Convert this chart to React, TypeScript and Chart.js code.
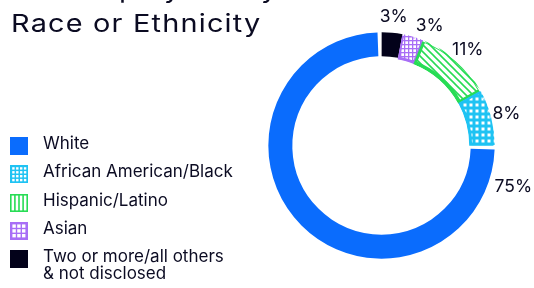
import React, { useEffect, useRef } from "react";
import { Chart, registerables } from "chart.js";

Chart.register(...registerables);

// ---- data ----
const titleLines = ["Our Employees by", "Race or Ethnicity"];
const sliceLabels = [
  "Two or more/all others & not disclosed",
  "Asian",
  "Hispanic/Latino",
  "African American/Black",
  "White",
];
const sliceValues = [3, 3, 11, 8, 75];
const legendLabels = [
  "White",
  "African American/Black",
  "Hispanic/Latino",
  "Asian",
  "Two or more/all others\n& not disclosed",
];
const legendKinds = ["white", "black", "hispanic", "asian", "other"];
const sliceKinds = ["other", "asian", "hispanic", "black", "white"];

const BLUE = "#0a6cfd";
const CYAN = "#1fc3f3";
const GREEN = "#28dc55";
const PURPLE = "#a86ef6";
const NAVY = "#03021a";
const TEXT = "#0b0b22";

function makeTile(size: number, draw: (c: CanvasRenderingContext2D) => void) {
  const c = document.createElement("canvas");
  c.width = size;
  c.height = size;
  const x = c.getContext("2d")!;
  draw(x);
  return c;
}

function chartFill(ctx: CanvasRenderingContext2D, kind: string): any {
  if (kind === "white") return BLUE;
  if (kind === "other") return NAVY;
  if (kind === "black") {
    const t = makeTile(6, (x) => {
      x.fillStyle = CYAN;
      x.fillRect(0, 0, 6, 6);
      x.fillStyle = "#fff";
      x.fillRect(1.5, 1.5, 3, 3);
    });
    return ctx.createPattern(t, "repeat");
  }
  if (kind === "asian") {
    const t = makeTile(4, (x) => {
      x.fillStyle = PURPLE;
      x.fillRect(0, 0, 4, 4);
      x.fillStyle = "#fff";
      x.fillRect(1.3, 1.3, 2.7, 2.7);
    });
    return ctx.createPattern(t, "repeat");
  }
  // hispanic: diagonal stripes
  const t = makeTile(7, (x) => {
    x.fillStyle = "#fff";
    x.fillRect(0, 0, 7, 7);
    x.strokeStyle = GREEN;
    x.lineWidth = 1.6;
    x.beginPath();
    x.moveTo(-1, -1);
    x.lineTo(8, 8);
    x.moveTo(-1, 6);
    x.lineTo(1, 8);
    x.moveTo(6, -1);
    x.lineTo(8, 1);
    x.stroke();
  });
  return ctx.createPattern(t, "repeat");
}

function drawSwatch(x: CanvasRenderingContext2D, kind: string) {
  const s = 18;
  x.clearRect(0, 0, s, s);
  if (kind === "white") {
    x.fillStyle = BLUE;
    x.fillRect(0, 0, s, s);
  } else if (kind === "other") {
    x.fillStyle = NAVY;
    x.fillRect(0, 0, s, s);
  } else if (kind === "black") {
    x.fillStyle = CYAN;
    x.fillRect(0, 0, s, s);
    x.fillStyle = "#fff";
    for (let i = 0; i < 4; i++)
      for (let j = 0; j < 4; j++) x.fillRect(2.2 + i * 3.9, 2.2 + j * 3.9, 2.4, 2.4);
  } else if (kind === "asian") {
    x.fillStyle = PURPLE;
    x.fillRect(0, 0, s, s);
    x.fillStyle = "#fff";
    for (let i = 0; i < 3; i++)
      for (let j = 0; j < 3; j++) x.fillRect(2.4 + i * 4.8, 2.4 + j * 4.8, 3.4, 3.4);
  } else {
    x.fillStyle = "#fff";
    x.fillRect(0, 0, s, s);
    x.fillStyle = GREEN;
    x.fillRect(0, 0, s, 1.6);
    x.fillRect(0, s - 1.6, s, 1.6);
    for (let i = 0; i < 5; i++) x.fillRect(i * 4.1, 0, 1.6, s);
  }
}

function Swatch({ kind }: { kind: string }) {
  const ref = useRef<HTMLCanvasElement>(null);
  useEffect(() => {
    const c = ref.current;
    if (!c) return;
    drawSwatch(c.getContext("2d")!, kind);
  }, [kind]);
  return <canvas ref={ref} width={18} height={18} style={{ display: "block" }} />;
}

const labelPlugin = {
  id: "outsideLabels",
  afterDatasetsDraw(chart: any) {
    const meta = chart.getDatasetMeta(0);
    const ctx = chart.ctx as CanvasRenderingContext2D;
    ctx.save();
    ctx.font = "17.5px Inter, sans-serif";
    ctx.fillStyle = TEXT;
    ctx.textAlign = "center";
    ctx.textBaseline = "middle";
    let prevRight = -Infinity;
    meta.data.forEach((arc: any, i: number) => {
      const p = arc.getProps(["x", "y", "startAngle", "endAngle", "outerRadius"], true);
      const text = `${sliceValues[i]}%`;
      const w = ctx.measureText(text).width;
      const span = p.endAngle - p.startAngle;
      const big = span > Math.PI;
      let a = big ? p.startAngle + 0.3 : (p.startAngle + p.endAngle) / 2;
      const r = p.outerRadius + (big ? 26 : 17);
      let lx = p.x + r * Math.cos(a);
      // push label clockwise until it no longer crowds the previous one
      while (!big && lx - w / 2 < prevRight + 8 && a < p.endAngle + 0.5) {
        a += 0.005;
        lx = p.x + r * Math.cos(a);
      }
      const ly = p.y + r * Math.sin(a);
      ctx.fillText(text, lx, ly);
      prevRight = lx + w / 2;
    });
    ctx.restore();
  },
};

export default function App() {
  const ref = useRef<HTMLCanvasElement>(null);

  useEffect(() => {
    const canvas = ref.current;
    if (!canvas) return;
    const ctx = canvas.getContext("2d")!;
    const chart = new Chart(canvas, {
      type: "doughnut",
      data: {
        labels: sliceLabels,
        datasets: [
          {
            data: sliceValues,
            backgroundColor: sliceKinds.map((k) => chartFill(ctx, k)),
            borderColor: sliceKinds.map((k) =>
              k === "hispanic" ? GREEN : k === "asian" ? PURPLE : k === "black" ? CYAN : "#fff"
            ),
            borderWidth: sliceKinds.map((k) => (k === "hispanic" ? 2 : k === "asian" || k === "black" ? 1.5 : 0)),
            borderAlign: "inner",
            spacing: 3,
            hoverOffset: 0,
          } as any,
        ],
      },
      options: {
        responsive: false,
        animation: false,
        cutout: "78%",
        layout: { padding: { left: 268, top: 32, right: 39, bottom: 29 } },
        plugins: {
          legend: { display: false },
          tooltip: { enabled: false },
        },
      } as any,
      plugins: [labelPlugin],
    });
    return () => chart.destroy();
  }, []);

  return (
    <div
      style={{
        position: "relative",
        width: 534,
        height: 288,
        overflow: "hidden",
        background: "#fff",
        fontFamily: "Inter, sans-serif",
        color: TEXT,
      }}
    >
      <style>{`body{margin:0}`}</style>
      <canvas ref={ref} width={534} height={288} style={{ position: "absolute", left: 0, top: 0 }} />
      <div
        style={{
          position: "absolute",
          left: 11,
          top: -22,
          fontSize: 24.5,
          lineHeight: "30px",
          fontWeight: 400,
          whiteSpace: "nowrap",
          letterSpacing: 1,
          transform: "scaleX(1.18)",
          transformOrigin: "0 0",
        }}
      >
        {titleLines.map((l, i) => (
          <div key={l} style={{ position: "relative", top: i === 0 ? -4 : 0 }}>
            {l}
          </div>
        ))}
      </div>
      {legendLabels.map((l, i) => (
        <div
          key={l}
          style={{
            position: "absolute",
            left: 10,
            top: 137 + i * 28.3,
            display: "flex",
            alignItems: "flex-start",
          }}
        >
          <Swatch kind={legendKinds[i]} />
          <div
            style={{
              marginLeft: 15,
              marginTop: -2,
              fontSize: 17,
              lineHeight: "17px",
              whiteSpace: "pre-line",
            }}
          >
            {l}
          </div>
        </div>
      ))}
    </div>
  );
}
